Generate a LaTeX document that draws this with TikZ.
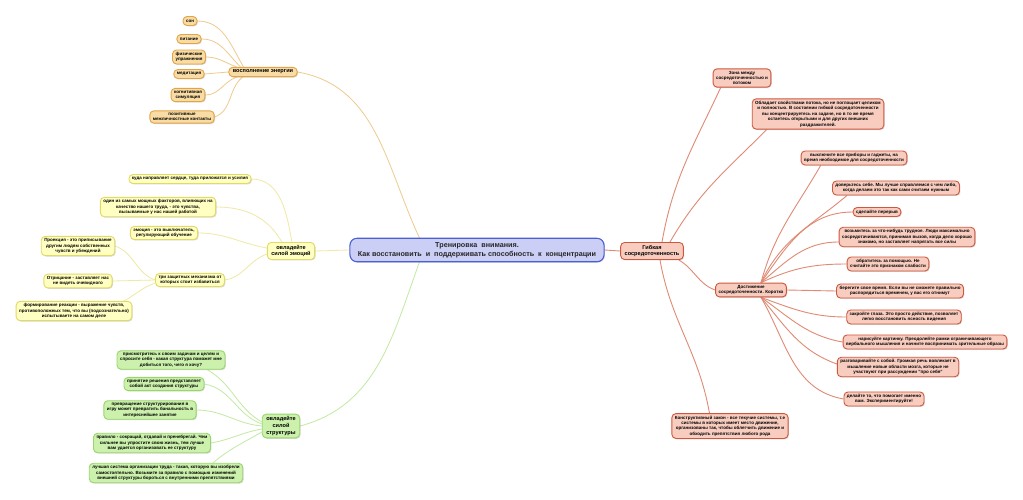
\documentclass[tikz,border=0pt]{standalone}
\usepackage{fontspec}
\setmainfont{Liberation Sans}
\usetikzlibrary{shadows,backgrounds}

\definecolor{orFill}{HTML}{F9DCA4}
\definecolor{orDraw}{HTML}{E2A448}
\definecolor{orEdge}{HTML}{EECB8C}
\definecolor{yeFill}{HTML}{FFFFC2}
\definecolor{yeDraw}{HTML}{E2DA66}
\definecolor{yeEdge}{HTML}{EEEAA4}
\definecolor{grFill}{HTML}{CBF1AC}
\definecolor{grDraw}{HTML}{98D66C}
\definecolor{grEdge}{HTML}{C2EAA2}
\definecolor{rdFill}{HTML}{F8CDBF}
\definecolor{rdDraw}{HTML}{CF573E}
\definecolor{rdEdge}{HTML}{E08A74}
\definecolor{blFill}{HTML}{CBCFF6}
\definecolor{blDraw}{HTML}{4B60D2}

\begin{document}
\begin{tikzpicture}[x=1pt,y=-1pt,line width=0.8pt,
  mmbox/.style={draw,rounded corners=4pt,line width=0.9pt,align=center,
    inner xsep=3pt,inner ysep=2.2pt,minimum height=9pt,
    font=\fontsize{4.5}{5.4}\selectfont\bfseries,
    drop shadow={shadow xshift=0.9pt,shadow yshift=-0.9pt,opacity=0.3}},
  hub/.style={font=\fontsize{5.6}{6.6}\selectfont\bfseries,inner xsep=4pt,inner ysep=2.6pt},
  orng/.style={mmbox,fill=orFill,draw=orDraw},
  yllw/.style={mmbox,fill=yeFill,draw=yeDraw},
  grnn/.style={mmbox,fill=grFill,draw=grDraw},
  redd/.style={mmbox,fill=rdFill,draw=rdDraw},
  oredge/.style={draw=orEdge,line width=0.8pt},
  yeedge/.style={draw=yeEdge,line width=0.8pt},
  gredge/.style={draw=grEdge,line width=0.8pt},
  rdedge/.style={draw=rdEdge,line width=0.9pt}]
\useasboundingbox (0,0) rectangle (1023,499);

% ---------- centre ----------
\node[mmbox,fill=blFill,draw=blDraw,line width=1.1pt,rounded corners=7pt,
  inner xsep=8pt,inner ysep=4.2pt,font=\fontsize{7.2}{8.6}\selectfont\bfseries,
  text=black!85] (root) at (477,250)
  {Тренировка\ \ внимания.\\Как восстановить\ \ и\ \ поддерживать способность\ \ к\ \ концентрации};

% ---------- top left: energy ----------
\node[orng,hub] (energy) at (263,72) {восполнение энергии};
\node[orng] (son) at (190,21) {сон};
\node[orng] (food) at (189,39) {питание};
\node[orng] (sport) at (189,57) {физические\\упражнения};
\node[orng] (medit) at (189,74) {медитация};
\node[orng] (cogn) at (188,95) {когнитивная\\симуляция};
\node[orng] (social) at (182,117) {позитивные\\межличностные контакты};

% ---------- left: emotions ----------
\node[yllw,hub] (emot) at (291,251) {овладейте\\силой эмоций};
\node[yllw] (heart) at (190,179) {куда направляет сердце, туда приложатся и усилия};
\node[yllw] (feel) at (158,207) {один из самых мощных факторов, влияющих на\\качество нашего труда, - это чувства,\\вызываемые у нас нашей работой};
\node[yllw] (switch) at (164,233) {эмоция - это выключатель,\\регулирующий обучение};
\node[yllw] (three) at (190,280) {три защитных механизма от\\которых стоит избавиться};
\node[yllw] (proj) at (78,246) {Проекция - это приписывание\\другим людям собственных\\чувств и убеждений};
\node[yllw] (deny) at (78,281) {Отрицание - заставляет нас\\не видеть очевидного};
\node[yllw] (react) at (74,311) {формирование реакции - выражение чувств,\\противоположных тем, что вы (подсознательно)\\испытываете на самом деле};

% ---------- bottom left: structure ----------
\node[grnn,hub] (struc) at (281,426) {овладейте\\силой\\структуры};
\node[grnn] (look) at (171,360) {присмотритесь к своим задачам и целям и\\спросите себя - какая структура поможет мне\\добиться того, чего я хочу?};
\node[grnn] (decide) at (164,384) {принятие решения представляет\\собой акт создания структуры};
\node[grnn] (game) at (150,410) {превращение структурирования в\\игру может превратить банальность в\\интереснейшее занятие};
\node[grnn] (rule) at (152,443) {правило - сокращай, отдавай и пренебрегай. Чем\\сильнее вы упростите свою жизнь, тем лучше\\вам удается организовать ее структуру};
\node[grnn] (best) at (166,473) {лучшая система организации труда - такая, которую вы изобрели\\самостоятельно. Возьмите за правило с помощью изменений\\внешней структуры бороться с внутренними препятствиями};

% ---------- right: flexible focus ----------
\node[redd,hub] (flex) at (652,251) {Гибкая\\сосредоточенность};
\node[redd] (zone) at (742,78) {Зона между\\сосредоточенностью и\\потоком};
\node[redd] (flowp) at (818,114) {Обладает свойствами потока, но не поглощает целиком\\и полностью. В состоянии гибкой сосредоточенности\\вы концентрируетесь на задаче, но в то же время\\остаетесь открытыми и для других внешних\\раздражителей.};
\node[redd] (reach) at (751,290) {Достижение\\сосредоточенности. Коротко};
\node[redd] (law) at (730,426) {Конструктивный закон - все текучие системы, т.е\\системы в которых имеет место движение,\\организованы так, чтобы облегчить движение и\\обходить препятствия любого рода};
% tips
\node[redd] (gadget) at (854,158) {выключите все приборы и гаджеты, на\\время необходимое для сосредоточенности};
\node[redd] (trust) at (896,188) {доверьтесь себе. Мы лучше справляемся с чем либо,\\когда делаем это так как сами считаем нужным};
\node[redd] (pause) at (877,212) {сделайте перерыв};
\node[redd] (hard) at (907,237) {возьмитесь за что-нибудь трудное. Люди максимально\\сосредотачиваются, принимая вызов, когда дело хорошо\\знакомо, но заставляет напрягать все силы};
\node[redd] (help) at (888,264) {обратитесь за помощью. Не\\считайте это признаком слабости};
\node[redd] (time) at (900,291) {берегите свое время. Если вы не сможете правильно\\распорядиться временем, у вас его отнимут};
\node[redd] (eyes) at (904,317) {закройте глаза. Это просто действие, позволяет\\легко восстановить ясность видения};
\node[redd] (image) at (925,342) {нарисуйте картинку. Преодолейте рамки ограничивающего\\вербального мышления и начните воспринимать зрительные образы};
\node[redd] (talk) at (898,367) {разговаривайте с собой. Громкая речь вовлекает в\\мышление новые области мозга, которые не\\участвуют при рассуждении "про себя"};
\node[redd] (own) at (884,399) {делайте то, что помогает именно\\вам. Экспериментируйте!};

% ---------- connectors ----------
\begin{pgfonlayer}{background}
\fill[white] (0,0) rectangle (1023,499);
% centre
\draw[oredge] (energy.east) to[out=-10,in=115] ([xshift=70pt]root.north west);
\draw[yeedge] (root.west) -- (emot.east);
\draw[gredge] ([xshift=70pt]root.south west) to[out=-110,in=15] (struc.east);
\draw[rdedge] (root.east) -- (flex.west);
% energy
\draw[oredge] (son.east) to[out=0,in=120] ([xshift=15pt]energy.north west);
\draw[oredge] (food.east) to[out=0,in=135] ([xshift=12pt]energy.north west);
\draw[oredge] (sport.east) to[out=0,in=160] ([xshift=8pt]energy.north west);
\draw[oredge] (medit.east) -- (energy.west);
\draw[oredge] (cogn.east) to[out=0,in=200] ([xshift=8pt]energy.south west);
\draw[oredge] (social.east) to[out=20,in=220] ([xshift=14pt]energy.south west);
% emotions
\draw[yeedge] (heart.east) to[out=0,in=100] ([xshift=25pt]emot.north west);
\draw[yeedge] (feel.east) to[out=0,in=120] ([xshift=15pt]emot.north west);
\draw[yeedge] (switch.east) to[out=0,in=170] ([yshift=3pt]emot.west);
\draw[yeedge] (three.east) to[out=10,in=200] ([yshift=-3pt]emot.west);
\draw[yeedge] (proj.east) to[out=-20,in=160] (three.west);
\draw[yeedge] (deny.east) -- (three.west);
\draw[yeedge] ([xshift=-8pt]react.north east) to[out=30,in=200] ([yshift=-3pt]three.west);
% structure
\draw[gredge] ([xshift=-18pt]look.south east) to[out=-30,in=150] ([yshift=4pt]struc.west);
\draw[gredge] (decide.east) to[out=-10,in=160] ([yshift=2pt]struc.west);
\draw[gredge] (game.east) to[out=0,in=175] (struc.west);
\draw[gredge] (rule.east) to[out=10,in=190] ([yshift=-3pt]struc.west);
\draw[gredge] ([xshift=47pt]best.north) to[out=40,in=210] ([yshift=-6pt]struc.west);
% flexible focus
\draw[rdedge] ([xshift=10pt]flex.north) to[out=80,in=-115] ([xshift=8pt]zone.south west);
\draw[rdedge] ([xshift=18pt]flex.north) to[out=60,in=-135] ([xshift=15pt]flowp.south west);
\draw[rdedge] ([xshift=-5pt]flex.south east) to[out=-30,in=160] (reach.west);
\draw[rdedge] ([xshift=8pt]flex.south) to[out=-80,in=100] ([xshift=38pt]law.north west);
% tips
\draw[rdedge] ([xshift=10pt]reach.north) to[out=75,in=-120] ([xshift=20pt]gadget.south west);
\draw[rdedge] ([xshift=10pt]reach.north) to[out=65,in=-140] ([xshift=15pt]trust.south west);
\draw[rdedge] ([xshift=10pt]reach.north) to[out=55,in=180] (pause.west);
\draw[rdedge] ([xshift=10pt]reach.north) to[out=40,in=180] ([yshift=-5pt]hard.west);
\draw[rdedge] ([xshift=10pt]reach.north) to[out=25,in=180] (help.west);
\draw[rdedge] (reach.east) -- (time.west);
\draw[rdedge] ([xshift=10pt]reach.south) to[out=-20,in=180] (eyes.west);
\draw[rdedge] ([xshift=10pt]reach.south) to[out=-35,in=170] (image.west);
\draw[rdedge] ([xshift=10pt]reach.south) to[out=-50,in=160] ([yshift=3pt]talk.west);
\draw[rdedge] ([xshift=10pt]reach.south) to[out=-60,in=170] (own.west);
\end{pgfonlayer}
\end{tikzpicture}
\end{document}
